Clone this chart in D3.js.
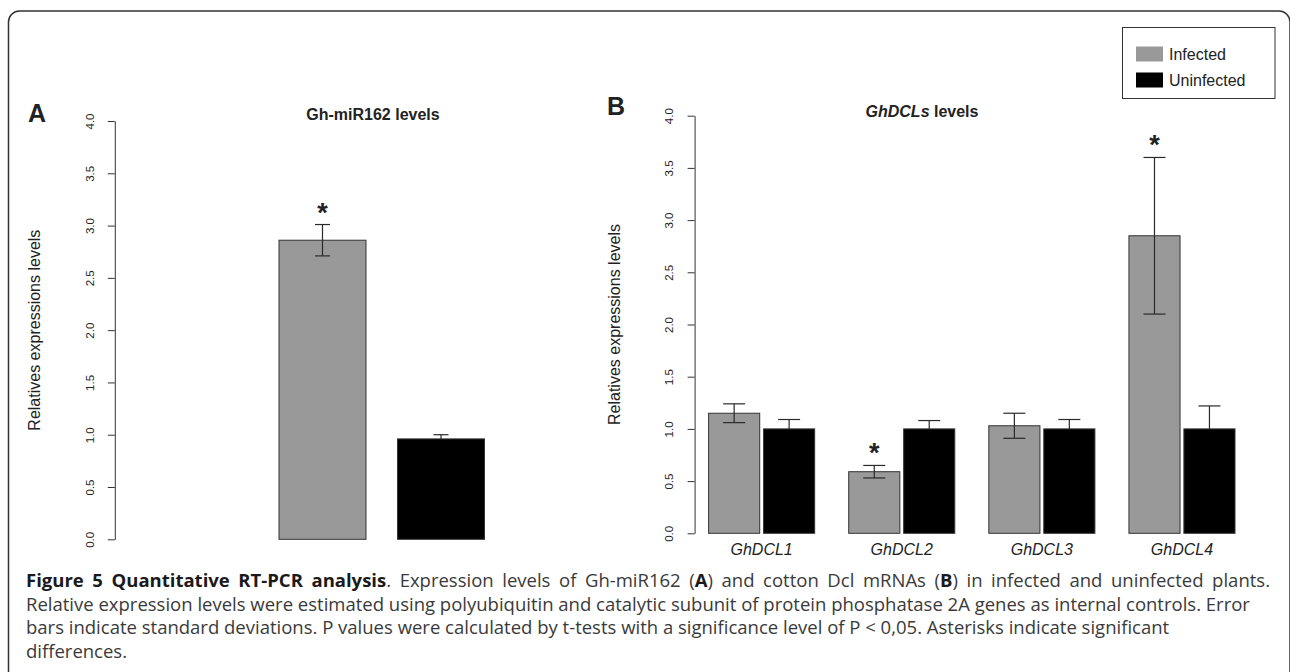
<!DOCTYPE html>
<html>
<head>
<meta charset="utf-8">
<script src="https://cdn.jsdelivr.net/npm/d3@7"></script>
<style>
  body { margin: 0; background: #fff; }
  svg { display: block; }
  text { font-family: "Liberation Sans", Arial, sans-serif; fill: #222; }
  .caption text { font-family: "Open Sans", sans-serif; }
</style>
</head>
<body>
<div id="chart"></div>
<script>
const width = 1290;
const height = 672;

// panel A : Gh-miR162
const seriesNames = ["Infected", "Uninfected"];
const mirValues = [2.86, 0.96];
const mirSd = [0.15, 0.04];
const mirSignif = [true, false];

// panel B : GhDCLs
const genes = ["GhDCL1", "GhDCL2", "GhDCL3", "GhDCL4"];
const dclInfected = [1.15, 0.59, 1.03, 2.85];
const dclInfectedSd = [0.09, 0.06, 0.12, 0.75];
const dclUninfected = [1.0, 1.0, 1.0, 1.0];
const dclUninfectedSd = [0.09, 0.08, 0.09, 0.22];
const dclSignif = [false, true, false, true];

const yTicks = [0, 0.5, 1, 1.5, 2, 2.5, 3, 3.5, 4];
const colors = { Infected: "#999999", Uninfected: "#000000" };

const svg = d3.select("#chart")
  .append("svg")
  .attr("width", width)
  .attr("height", height);

// outer frame, rounded on top, open at the bottom
svg.append("path")
  .attr("d", "M8.5,672 L8.5,22 A11,11 0 0 1 19.5,11 L1279,11 A11,11 0 0 1 1290,22 L1290,672")
  .attr("fill", "none")
  .attr("stroke", "#333")
  .attr("stroke-width", 1.5);

function drawYAxis(g, y, axisX, labelOffset, titleX) {
  const ax = g.append("g")
    .attr("transform", `translate(${axisX},0)`)
    .call(d3.axisLeft(y).tickValues(yTicks).tickSize(7).tickSizeOuter(0).tickFormat(d3.format(".1f")));
  ax.select(".domain").attr("stroke", "#333");
  ax.selectAll(".tick line").attr("stroke", "#333");
  ax.selectAll(".tick text")
    .attr("x", 0)
    .attr("dy", "0.35em")
    .attr("text-anchor", "middle")
    .attr("transform", `translate(${-labelOffset},0) rotate(-90)`)
    .style("font-family", "'Liberation Sans', Arial, sans-serif")
    .style("font-size", "11.5px")
    .attr("fill", "#222");

  g.append("text")
    .attr("transform", `translate(${titleX},${(y(0) + y(4)) / 2}) rotate(-90)`)
    .attr("text-anchor", "middle")
    .attr("dy", "0.35em")
    .style("font-size", "16px")
    .text("Relatives expressions levels");
}

function drawBar(g, x0, w, y, value, sd, color, capW, signif) {
  g.append("rect")
    .attr("x", x0)
    .attr("y", y(value))
    .attr("width", w)
    .attr("height", y(0) - y(value))
    .attr("fill", color)
    .attr("stroke", "#333")
    .attr("stroke-width", 1);

  const cx = x0 + w / 2;
  const top = y(value + sd), bot = y(value - sd);
  const dark = color === "#000000";
  const eb = g.append("g").attr("stroke", "#2a2a2a").attr("stroke-width", 1.2);
  eb.append("line").attr("x1", cx).attr("x2", cx).attr("y1", top).attr("y2", dark ? y(value) : bot);
  eb.append("line").attr("x1", cx - capW / 2).attr("x2", cx + capW / 2).attr("y1", top).attr("y2", top);
  if (!dark) {
    eb.append("line").attr("x1", cx - capW / 2).attr("x2", cx + capW / 2).attr("y1", bot).attr("y2", bot);
  }

  if (signif) {
    g.append("text")
      .attr("x", cx)
      .attr("y", top - 3)
      .attr("text-anchor", "middle")
      .style("font-size", "27px")
      .style("font-weight", "bold")
      .text("*");
  }
}

// ---------- panel A ----------
const gA = svg.append("g");
const yA = d3.scaleLinear().domain([0, 4]).range([539.3, 121]);
const xA = d3.scaleBand().domain(seriesNames).range([279, 484.5]).paddingInner(0.266);

drawYAxis(gA, yA, 114.8, 25, 34);

seriesNames.forEach((s, i) => {
  drawBar(gA, xA(s), xA.bandwidth(), yA, mirValues[i], mirSd[i], colors[s], 15, mirSignif[i]);
});

gA.append("text")
  .attr("x", 373).attr("y", 120)
  .attr("text-anchor", "middle")
  .style("font-size", "16px").style("font-weight", "bold")
  .text("Gh-miR162 levels");

gA.append("text")
  .attr("x", 28).attr("y", 121.5)
  .style("font-size", "25px").style("font-weight", "bold")
  .attr("fill", "#111")
  .text("A");

// ---------- panel B ----------
const gB = svg.append("g");
const yB = d3.scaleLinear().domain([0, 4]).range([533.3, 115.7]);
const xB0 = d3.scaleBand().domain(genes).range([708.6, 1235]).paddingInner(0.243);
const xB1 = d3.scaleBand().domain(seriesNames).range([0, xB0.bandwidth()]).paddingInner(0.07);

drawYAxis(gB, yB, 694.6, 26, 614);

genes.forEach((gname, i) => {
  const gx = xB0(gname);
  drawBar(gB, gx + xB1("Infected"), xB1.bandwidth(), yB, dclInfected[i], dclInfectedSd[i], colors.Infected, 22, dclSignif[i]);
  drawBar(gB, gx + xB1("Uninfected"), xB1.bandwidth(), yB, dclUninfected[i], dclUninfectedSd[i], colors.Uninfected, 22, false);
});

gB.selectAll(".gene-label")
  .data(genes)
  .join("text")
  .attr("class", "gene-label")
  .attr("x", d => xB0(d) + xB0.bandwidth() / 2)
  .attr("y", 555)
  .attr("text-anchor", "middle")
  .style("font-size", "16px")
  .style("font-style", "italic")
  .text(d => d);

const titleB = gB.append("text")
  .attr("x", 922).attr("y", 116.5)
  .attr("text-anchor", "middle")
  .style("font-size", "16px").style("font-weight", "bold");
titleB.append("tspan").style("font-style", "italic").text("GhDCLs");
titleB.append("tspan").text(" levels");

gB.append("text")
  .attr("x", 607).attr("y", 115)
  .style("font-size", "25px").style("font-weight", "bold")
  .attr("fill", "#111")
  .text("B");

// legend
const legend = svg.append("g");
legend.append("rect")
  .attr("x", 1122.5).attr("y", 27.5)
  .attr("width", 152.5).attr("height", 71)
  .attr("fill", "#fff").attr("stroke", "#333").attr("stroke-width", 1);
seriesNames.forEach((s, i) => {
  legend.append("rect")
    .attr("x", 1136).attr("y", 46.5 + i * 26)
    .attr("width", 27).attr("height", 15)
    .attr("fill", colors[s]);
  legend.append("text")
    .attr("x", 1169).attr("y", 60 + i * 26)
    .style("font-size", "16px")
    .text(s);
});

// ---------- caption ----------
const capX = 26;
const capRight = 1270;
const capLines = [
  [["Figure 5 Quantitative RT-PCR analysis", true], [". Expression levels of Gh-miR162 (", false], ["A", true],
   [") and cotton Dcl mRNAs (", false], ["B", true], [") in infected and uninfected plants.", false]],
  [["Relative expression levels were estimated using polyubiquitin and catalytic subunit of protein phosphatase 2A genes as internal controls. Error", false]],
  [["bars indicate standard deviations. P values were calculated by t-tests with a significance level of P < 0,05. Asterisks indicate significant", false]],
  [["differences.", false]]
];
const capBaselines = [587, 610.5, 634, 657.5];

const cap = svg.append("g").attr("class", "caption");
capLines.forEach((parts, li) => {
  const t = cap.append("text")
    .attr("x", capX)
    .attr("y", capBaselines[li])
    .style("font-size", "18.5px");
  parts.forEach(([str, bold]) => {
    t.append("tspan")
      .style("font-weight", bold ? "bold" : "normal")
      .attr("fill", bold ? "#1a1a1a" : "#3a3a3a")
      .text(str);
  });
  if (li === 0) {
    // justify the first line to the column width
    const natural = t.node().getComputedTextLength();
    const spaces = parts.map(p => p[0]).join("").split(" ").length - 1;
    const extra = (capRight - capX) - natural;
    if (spaces > 0) t.style("word-spacing", (extra / spaces) + "px");
  }
});
</script>
</body>
</html>
